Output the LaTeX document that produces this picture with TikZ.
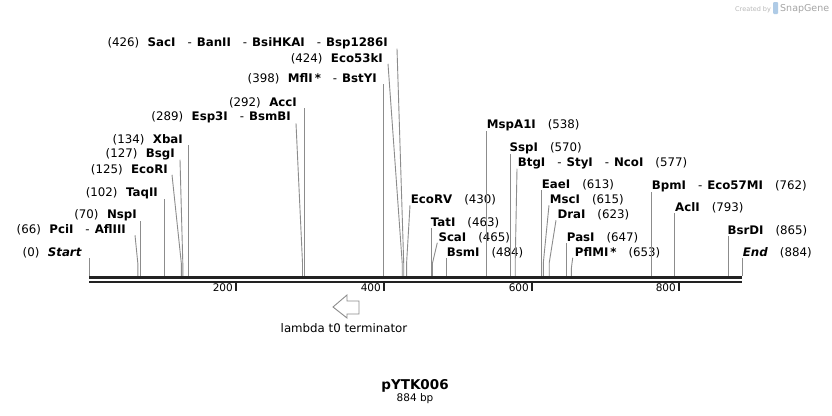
\documentclass[tikz,border=0pt]{standalone}
\usepackage{fontspec}
\setmainfont{DejaVu Sans}
\definecolor{siteGray}{HTML}{8C8C8C}
\definecolor{backbone}{HTML}{222222}
\definecolor{logoGray}{HTML}{B8B8B8}
\definecolor{logoBlue}{HTML}{AFCBE6}
\newcommand{\enzsep}{\hspace{12pt}-\hspace{5pt}}
\newcommand{\posgap}{\hspace{8.5pt}}
\newcommand{\rgap}{\hspace{12pt}}

\begin{document}
\begin{tikzpicture}[x=1pt, y=-1pt,
    every node/.style={inner sep=0pt, font=\fontsize{11.8}{14}\selectfont},
    cut/.style={draw=siteGray, line width=0.9pt},
    lbl/.style={anchor=base east},
    rbl/.style={anchor=base west}]
    \fill[white] (0,0) rectangle (832,415);

    % sites on the backbone (0 bp at 89, 884 bp at 742)
    \coordinate (s000) at (89,276);
    \coordinate (s066) at (137.8,276);
    \coordinate (s070) at (140.7,276);
    \coordinate (s102) at (164.4,276);
    \coordinate (s125) at (181.3,276);
    \coordinate (s127) at (182.8,276);
    \coordinate (s134) at (188,276);
    \coordinate (s289) at (302.5,276);
    \coordinate (s292) at (304.7,276);
    \coordinate (s398) at (383,276);
    \coordinate (s424) at (402.2,276);
    \coordinate (s426) at (403.7,276);
    \coordinate (s430) at (406.6,276);
    \coordinate (s463) at (431,276);
    \coordinate (s465) at (432.5,276);
    \coordinate (s484) at (446.5,276);
    \coordinate (s538) at (486.4,276);
    \coordinate (s570) at (510.1,276);
    \coordinate (s577) at (515.2,276);
    \coordinate (s613) at (541.8,276);
    \coordinate (s615) at (543.3,276);
    \coordinate (s623) at (549.2,276);
    \coordinate (s647) at (566.9,276);
    \coordinate (s653) at (571.4,276);
    \coordinate (s762) at (651.9,276);
    \coordinate (s793) at (674.8,276);
    \coordinate (s865) at (728,276);
    \coordinate (s884) at (742,276);

    % labels left of their sites
    \node[lbl] (sacI) at (388,46) {(426)\posgap\textbf{SacI}\enzsep\textbf{BanII}\enzsep\textbf{BsiHKAI}\enzsep\textbf{Bsp1286I}};
    \node[lbl] (eco53kI) at (383,62) {(424)\posgap\textbf{Eco53kI}};
    \node[lbl] (mflI) at (377,82.5) {(398)\posgap\textbf{MflI\,*}\enzsep\textbf{BstYI}};
    \node[lbl] (accI) at (297,106.5) {(292)\posgap\textbf{AccI}};
    \node[lbl] (esp3I) at (291,120.7) {(289)\posgap\textbf{Esp3I}\enzsep\textbf{BsmBI}};
    \node[lbl] (xbaI) at (183,143.5) {(134)\posgap\textbf{XbaI}};
    \node[lbl] (bsgI) at (175,157) {(127)\posgap\textbf{BsgI}};
    \node[lbl] (ecoRI) at (168,173) {(125)\posgap\textbf{EcoRI}};
    \node[lbl] (taqII) at (158,196) {(102)\posgap\textbf{TaqII}};
    \node[lbl] (nspI) at (137,218) {(70)\posgap\textbf{NspI}};
    \node[lbl] (pciI) at (126,233.5) {(66)\posgap\textbf{PciI}\enzsep\textbf{AflIII}};
    \node[lbl] (start) at (82,256) {(0)\posgap\textbf{\itshape Start}};

    % labels right of their sites
    \node[rbl] (ecoRV) at (410.7,203.5) {\textbf{EcoRV}\rgap(430)};
    \node[rbl] (tatI) at (430.7,226) {\textbf{TatI}\rgap(463)};
    \node[rbl] (scaI) at (438.3,241) {\textbf{ScaI}\rgap(465)};
    \node[rbl] (bsmI) at (446.7,256) {\textbf{BsmI}\rgap(484)};
    \node[rbl] (mspA1I) at (486.7,128.5) {\textbf{MspA1I}\rgap(538)};
    \node[rbl] (sspI) at (509.5,151) {\textbf{SspI}\rgap(570)};
    \node[rbl] (btgI) at (517.7,166) {\textbf{BtgI}\enzsep\textbf{StyI}\enzsep\textbf{NcoI}\rgap(577)};
    \node[rbl] (eaeI) at (541.7,188.5) {\textbf{EaeI}\rgap(613)};
    \node[rbl] (mscI) at (549.7,203.5) {\textbf{MscI}\rgap(615)};
    \node[rbl] (draI) at (557.3,218.5) {\textbf{DraI}\rgap(623)};
    \node[rbl] (pasI) at (566.7,241) {\textbf{PasI}\rgap(647)};
    \node[rbl] (pflMI) at (574.7,256) {\textbf{PflMI\,*}\rgap(653)};
    \node[rbl] (bpmI) at (651.7,189) {\textbf{BpmI}\enzsep\textbf{Eco57MI}\rgap(762)};
    \node[rbl] (aclI) at (675,211.5) {\textbf{AclI}\rgap(793)};
    \node[rbl] (bsrDI) at (727.3,234.5) {\textbf{BsrDI}\rgap(865)};
    \node[rbl] (end) at (742.7,256) {\textbf{\itshape End}\rgap(884)};

    % cut site lines
    \draw[cut] (s000) -- (s000 |- start.south);
    \draw[cut] (s066) -- ++(0,-13) -- ([xshift=9pt]pciI.south east);
    \draw[cut] (s070) -- (s070 |- nspI.south);
    \draw[cut] (s102) -- (s102 |- taqII.south);
    \draw[cut] (s125) -- ++(0,-13) -- ([xshift=4pt]ecoRI.south east);
    \draw[cut] (s127) -- ++(0,-13) -- ([xshift=5pt]bsgI.south east);
    \draw[cut] (s134) -- (s134 |- xbaI.south);
    \draw[cut] (s289) -- ++(0,-13) -- ([xshift=5pt]esp3I.south east);
    \draw[cut] (s292) -- (s292 |- accI.south);
    \draw[cut] (s398) -- (s398 |- mflI.south);
    \draw[cut] (s424) -- ++(0,-13) -- ([xshift=5pt]eco53kI.south east);
    \draw[cut] (s426) -- ++(0,-13) -- ([xshift=9pt]sacI.south east);
    \draw[cut] (s430) -- ++(0,-13) -- ([xshift=-0.7pt]ecoRV.south west);
    \draw[cut] (s463) -- (s463 |- tatI.south);
    \draw[cut] (s465) -- ++(0,-13) -- ([xshift=-1pt]scaI.south west);
    \draw[cut] (s484) -- (s484 |- bsmI.south);
    \draw[cut] (s538) -- (s538 |- mspA1I.south);
    \draw[cut] (s570) -- (s570 |- sspI.south);
    \draw[cut] (s577) -- ++(0,-13) -- ([xshift=-0.7pt]btgI.south west);
    \draw[cut] (s613) -- (s613 |- eaeI.south);
    \draw[cut] (s615) -- ++(0,-13) -- ([xshift=-0.7pt]mscI.south west);
    \draw[cut] (s623) -- ++(0,-13) -- ([xshift=-1.3pt]draI.south west);
    \draw[cut] (s647) -- (s647 |- pasI.south);
    \draw[cut] (s653) -- ++(0,-8) -- ([xshift=-2pt]pflMI.south west);
    \draw[cut] (s762) -- (s762 |- bpmI.south);
    \draw[cut] (s793) -- (s793 |- aclI.south);
    \draw[cut] (s865) -- (s865 |- bsrDI.south);
    \draw[cut] (s884) -- (s884 |- end.south);

    % backbone
    \draw[backbone, line width=3pt] (89,277.5) -- (742,277.5);
    \draw[backbone, line width=2.2pt] (89,282) -- (742,282);

    % ruler
    \draw[backbone, line width=2pt] (236,283) -- (236,291);
    \node[anchor=base east, font=\fontsize{10.5}{12}\selectfont] at (233,291.5) {200};
    \draw[backbone, line width=2pt] (384,283) -- (384,291);
    \node[anchor=base east, font=\fontsize{10.5}{12}\selectfont] at (381,291.5) {400};
    \draw[backbone, line width=2pt] (532,283) -- (532,291);
    \node[anchor=base east, font=\fontsize{10.5}{12}\selectfont] at (529,291.5) {600};
    \draw[backbone, line width=2pt] (679,283) -- (679,291);
    \node[anchor=base east, font=\fontsize{10.5}{12}\selectfont] at (676,291.5) {800};

    % feature
    \draw[siteGray, fill=white, line width=0.9pt] (333,307) -- (347,295) -- (347,301) -- (359,301)
        -- (359,314) -- (347,314) -- (347,318) -- cycle;
    \node[anchor=base] (term) at (344,332.5) {lambda t0 terminator};

    % title
    \node[anchor=base, font=\fontsize{13.5}{15}\selectfont\bfseries] (title) at (415,389) {pYTK006};
    \node[anchor=base, font=\fontsize{10.5}{12}\selectfont] (size) at (415,401) {884 bp};

    % watermark
    \node[anchor=base west, text=logoGray, font=\fontsize{6.5}{8}\selectfont] (made) at (735,11) {Created by};
    \fill[logoBlue, rounded corners=1pt] (773,2) rectangle (778,14);
    \node[anchor=base west, text=logoGray!90!black, font=\fontsize{9.5}{11}\selectfont] (snap) at (780,11.5) {SnapGene};
\end{tikzpicture}
\end{document}
